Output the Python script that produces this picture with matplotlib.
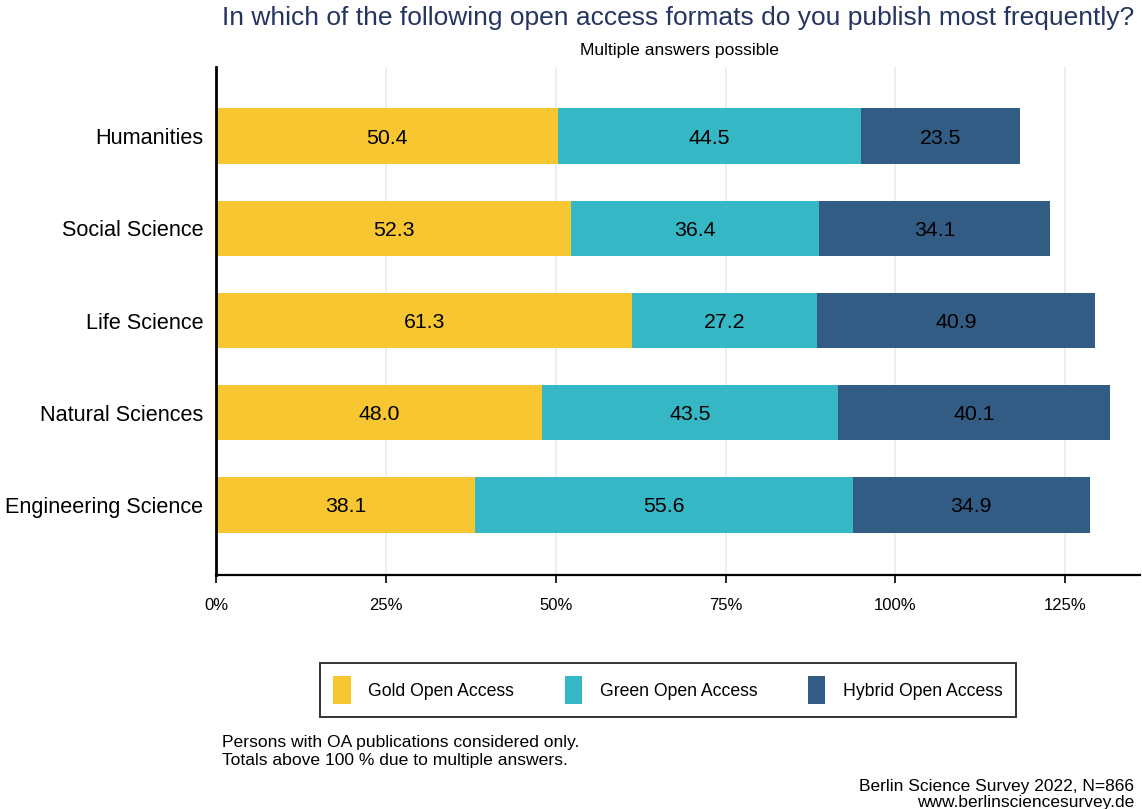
import matplotlib.pyplot as plt
from matplotlib.patches import Patch

# Share of respondents per open access format, by field
fields = ["Engineering Science", "Natural Sciences", "Life Science",
          "Social Science", "Humanities"]
gold = [38.1, 48.0, 61.3, 52.3, 50.4]
green = [55.6, 43.5, 27.2, 36.4, 44.5]
hybrid = [34.9, 40.1, 40.9, 34.1, 23.5]

formats = ["Gold Open Access", "Green Open Access", "Hybrid Open Access"]
colors = ["#F7C631", "#35B7C6", "#335C85"]
xticks = [0, 25, 50, 75, 100, 125]

plt.rcParams['font.family'] = ['Liberation Sans', 'DejaVu Sans']


def main():
    fig = plt.figure(figsize=(11.42, 8.09), dpi=100)
    ax = fig.add_axes([216 / 1142, 1 - 575 / 809, 924 / 1142, 508 / 809])

    ys = range(len(fields))
    left = [0] * len(fields)
    for vals, col in zip([gold, green, hybrid], colors):
        ax.barh(ys, vals, left=left, height=0.6, color=col, zorder=2)
        for y, l, v in zip(ys, left, vals):
            ax.text(l + v / 2, y, f"{v:.1f}", ha='center', va='center_baseline',
                    fontsize=15.3, color='black', zorder=3)
        left = [l + v for l, v in zip(left, vals)]

    ax.set_xlim(0, 136)
    ax.set_ylim(-0.76, 4.75)
    ax.set_yticks(list(ys))
    ax.set_yticklabels(fields, fontsize=15.6)
    ax.set_xticks(xticks)
    ax.set_xticklabels([f"{t}%" for t in xticks], fontsize=12)
    ax.tick_params(axis='y', length=0, pad=9)
    ax.tick_params(axis='x', length=6, width=1.2, pad=10.5)
    ax.grid(axis='x', color='#E6ECEF', linewidth=1.2, zorder=0)
    for s in ['top', 'right']:
        ax.spines[s].set_visible(False)
    ax.spines['left'].set_linewidth(2)
    ax.spines['bottom'].set_linewidth(1.6)

    fig.text(1134 / 1142, 1 - 18 / 809,
             "In which of the following open access formats do you publish most frequently?",
             ha='right', va='center', fontsize=19, color='#253561')
    fig.text(679 / 1142, 1 - 51 / 809, "Multiple answers possible",
             ha='center', va='center', fontsize=12.6)

    handles = [Patch(facecolor=c, edgecolor='none') for c in colors]
    leg = fig.legend(handles, formats, ncol=3, loc='center',
                     bbox_to_anchor=(668 / 1142, 1 - 690 / 809),
                     fontsize=12.7, frameon=True, fancybox=False,
                     edgecolor='black', handlelength=1.0, handleheight=2.1,
                     handletextpad=1.0, columnspacing=2.85,
                     borderpad=0.75, borderaxespad=0)
    leg.get_frame().set_linewidth(1.4)

    fig.text(222 / 1142, 1 - 743 / 809, "Persons with OA publications considered only.",
             ha='left', va='center', fontsize=12.6)
    fig.text(222 / 1142, 1 - 760 / 809, "Totals above 100 % due to multiple answers.",
             ha='left', va='center', fontsize=12.6)
    fig.text(1134 / 1142, 1 - 786 / 809, "Berlin Science Survey 2022, N=866",
             ha='right', va='center', fontsize=12.5)
    fig.text(1134 / 1142, 1 - 803 / 809, "www.berlinsciencesurvey.de",
             ha='right', va='center', fontsize=12.5)

    fig.savefig("out.png", dpi=100)


if __name__ == '__main__':
    main()
